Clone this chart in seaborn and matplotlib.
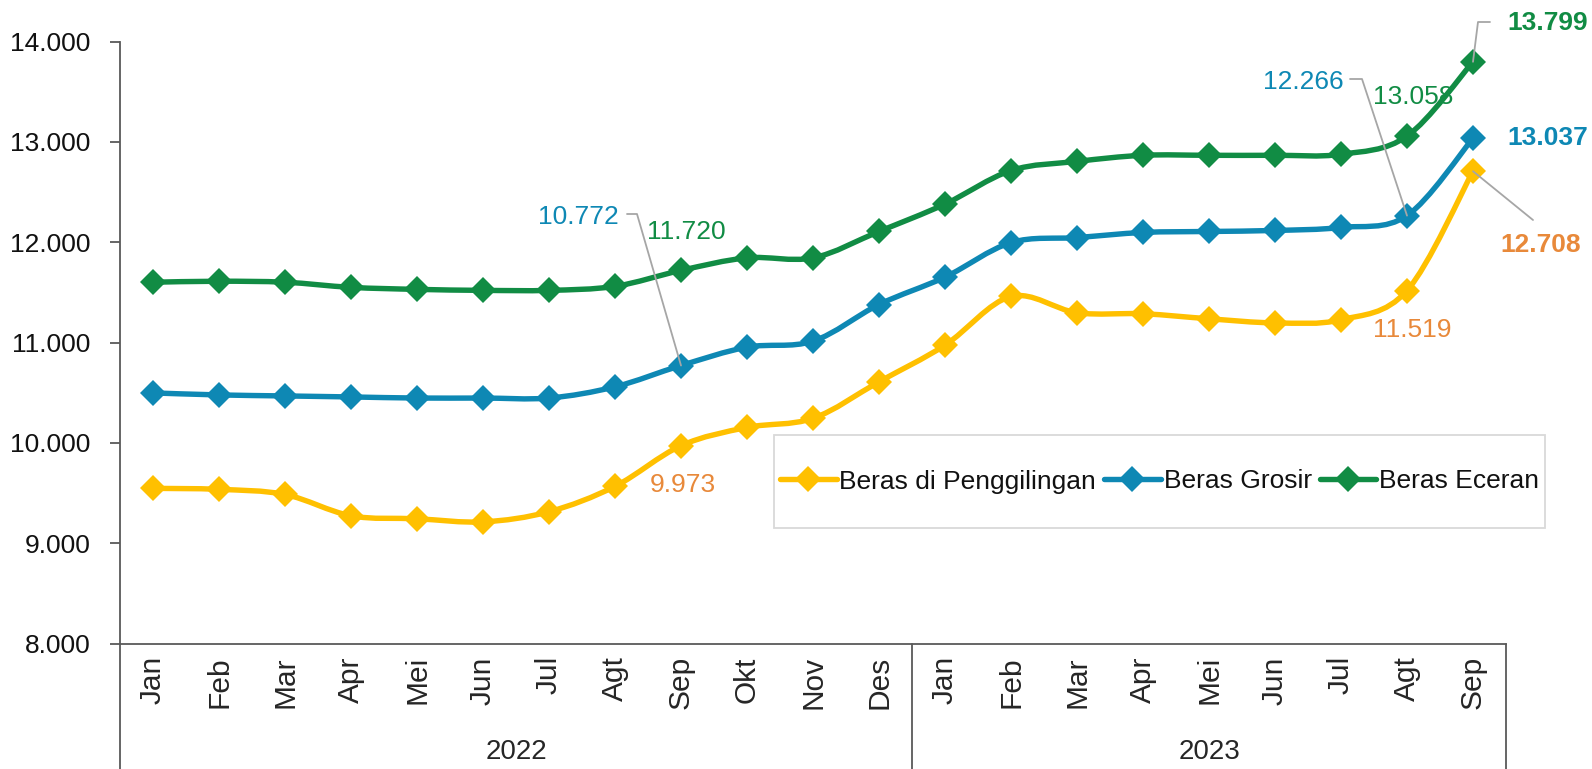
import matplotlib
matplotlib.use("Agg")
import matplotlib.pyplot as plt
import matplotlib.transforms as mtransforms
from matplotlib.ticker import FuncFormatter
from matplotlib.lines import Line2D
from matplotlib.path import Path
from matplotlib.patches import PathPatch, Rectangle
import seaborn as sns
import pandas as pd

bulan = ["Jan", "Feb", "Mar", "Apr", "Mei", "Jun", "Jul", "Agt", "Sep", "Okt", "Nov", "Des",
         "Jan", "Feb", "Mar", "Apr", "Mei", "Jun", "Jul", "Agt", "Sep"]
tahun = ["2022", "2023"]

penggilingan = [9548, 9538, 9487, 9275, 9245, 9214, 9315, 9568, 9973, 10155, 10246, 10610,
                10975, 11460, 11298, 11288, 11238, 11197, 11228, 11519, 12708]
grosir = [10499, 10479, 10469, 10459, 10448, 10448, 10448, 10560, 10772, 10955, 11015, 11380,
          11653, 11997, 12047, 12098, 12108, 12118, 12148, 12266, 13037]
eceran = [11602, 11612, 11602, 11551, 11531, 11521, 11521, 11561, 11720, 11845, 11845, 12108,
          12381, 12715, 12806, 12867, 12867, 12867, 12877, 13058, 13799]

seri = ["Beras di Penggilingan", "Beras Grosir", "Beras Eceran"]
warna = {"Beras di Penggilingan": "#FFC000", "Beras Grosir": "#0E88B4", "Beras Eceran": "#118C44"}
ORANYE = "#E8893A"

FONT = ["Liberation Sans", "DejaVu Sans"]
FS = 19
LW = 3.9
MS = 13.5


def build_frame():
    rows = []
    for nama, vals in zip(seri, [penggilingan, grosir, eceran]):
        for i, v in enumerate(vals):
            rows.append({"idx": i, "harga": v, "seri": nama})
    return pd.DataFrame(rows)


def smooth_path(vals):
    # Excel-style smoothed line: cubic bezier through the points
    pts = list(enumerate(vals))
    n = len(pts)
    verts = [pts[0]]
    codes = [Path.MOVETO]
    for i in range(n - 1):
        p0 = pts[max(i - 1, 0)]
        p1 = pts[i]
        p2 = pts[i + 1]
        p3 = pts[min(i + 2, n - 1)]
        c1 = (p1[0] + (p2[0] - p0[0]) / 6, p1[1] + (p2[1] - p0[1]) / 6)
        c2 = (p2[0] - (p3[0] - p1[0]) / 6, p2[1] - (p3[1] - p1[1]) / 6)
        verts += [c1, c2, p2]
        codes += [Path.CURVE4] * 3
    return Path(verts, codes)


def main():
    sns.set_theme(style="white")
    plt.rcParams["font.family"] = FONT
    df = build_frame()

    fig = plt.figure(figsize=(15.92, 7.69), dpi=100)
    ax = fig.add_axes([120 / 1592, 1 - 643.7 / 769, (1506 - 120) / 1592, (643.7 - 41.6) / 769])

    for nama, vals in zip(seri, [penggilingan, grosir, eceran]):
        ax.add_patch(PathPatch(smooth_path(vals), facecolor="none", edgecolor=warna[nama],
                               lw=LW, capstyle="round", joinstyle="round", zorder=2))
    sns.lineplot(data=df, x="idx", y="harga", hue="seri", hue_order=seri, palette=warna,
                 marker="D", markersize=MS, markeredgewidth=0, linewidth=0,
                 sort=False, legend=False, ax=ax, zorder=3)

    ax.set_xlim(-0.5, 20.5)
    ax.set_ylim(8000, 14000)
    ax.set_yticks(range(8000, 14001, 1000))
    ax.yaxis.set_major_formatter(FuncFormatter(lambda v, p: f"{v:,.0f}".replace(",", ".")))
    ax.set_xlabel("")
    ax.set_ylabel("")
    for s in ["top", "right"]:
        ax.spines[s].set_visible(False)
    for s in ["left", "bottom"]:
        ax.spines[s].set_color("#595959")
        ax.spines[s].set_linewidth(1.3)
    ax.tick_params(axis="y", left=True, length=7, width=1.3, color="#595959",
                   labelsize=FS, labelcolor="#111111", pad=14)
    ax.set_xticks(range(len(bulan)))
    ax.set_xticklabels(bulan, rotation=90, fontsize=21.5, color="#262626")
    ax.tick_params(axis="x", bottom=False, pad=3)

    # group separators below the axis
    trans = mtransforms.blended_transform_factory(ax.transData, ax.transAxes)
    for xv in [-0.5, 11.5, 20.5]:
        ax.plot([xv, xv], [0, -0.21], transform=trans, color="#595959", lw=1.3, clip_on=False)
    ax.text(5.5, -0.18, tahun[0], transform=trans, ha="center", va="center", fontsize=20, color="#262626")
    ax.text(16, -0.18, tahun[1], transform=trans, ha="center", va="center", fontsize=20, color="#262626")

    # data labels
    def lab(i, vals, txt_xy, color, bold=False, leader=None):
        v = vals[i]
        s = f"{v:,.0f}".replace(",", ".")
        fx, fy = txt_xy
        fig.text(fx / 1592, 1 - fy / 769, s, ha="left", va="center", fontsize=FS, color=color,
                 fontweight="bold" if bold else "normal")
        if leader is not None:
            pts = [ax.transData.transform((i, v))] + [(px, 769 - py) for px, py in leader]
            xs = [p[0] / 1592 for p in pts]
            ys = [p[1] / 769 for p in pts]
            fig.add_artist(Line2D(xs, ys, color="#A6A6A6", lw=1.3, transform=fig.transFigure))

    lab(8, penggilingan, (650, 485), ORANYE)
    lab(19, penggilingan, (1373, 330), ORANYE)
    lab(20, penggilingan, (1500, 245), ORANYE, bold=True, leader=[(1533, 220)])
    lab(8, grosir, (538, 217), warna["Beras Grosir"], leader=[(637, 214), (627, 214)])
    lab(19, grosir, (1263, 82), warna["Beras Grosir"], leader=[(1362, 79), (1350, 79)])
    lab(20, grosir, (1507, 138), warna["Beras Grosir"], bold=True)
    lab(8, eceran, (647, 232), warna["Beras Eceran"])
    lab(19, eceran, (1373, 97), warna["Beras Eceran"])
    lab(20, eceran, (1507, 23), warna["Beras Eceran"], bold=True, leader=[(1478, 22), (1490, 22)])

    # legend box
    fig.add_artist(Rectangle((774 / 1592, 1 - 528 / 769), (1545 - 774) / 1592, 93 / 769,
                             transform=fig.transFigure, facecolor="white", edgecolor="#D9D9D9",
                             lw=1.3, zorder=4))
    handles = [Line2D([], [], color=warna[n], marker="D", markersize=MS, markeredgewidth=0, lw=LW)
               for n in seri]
    leg = fig.legend(handles, seri, loc="center", bbox_to_anchor=(1159.5 / 1592, 1 - 481.5 / 769),
                     ncol=3, fontsize=19, frameon=False, borderpad=0.2,
                     handlelength=2.15, handletextpad=0.1, columnspacing=0.3)
    leg.set_zorder(5)
    for t in leg.get_texts():
        t.set_color("#111111")

    fig.savefig("out.png", dpi=100)
    plt.close(fig)


if "__main__" == __name__:
    main()
